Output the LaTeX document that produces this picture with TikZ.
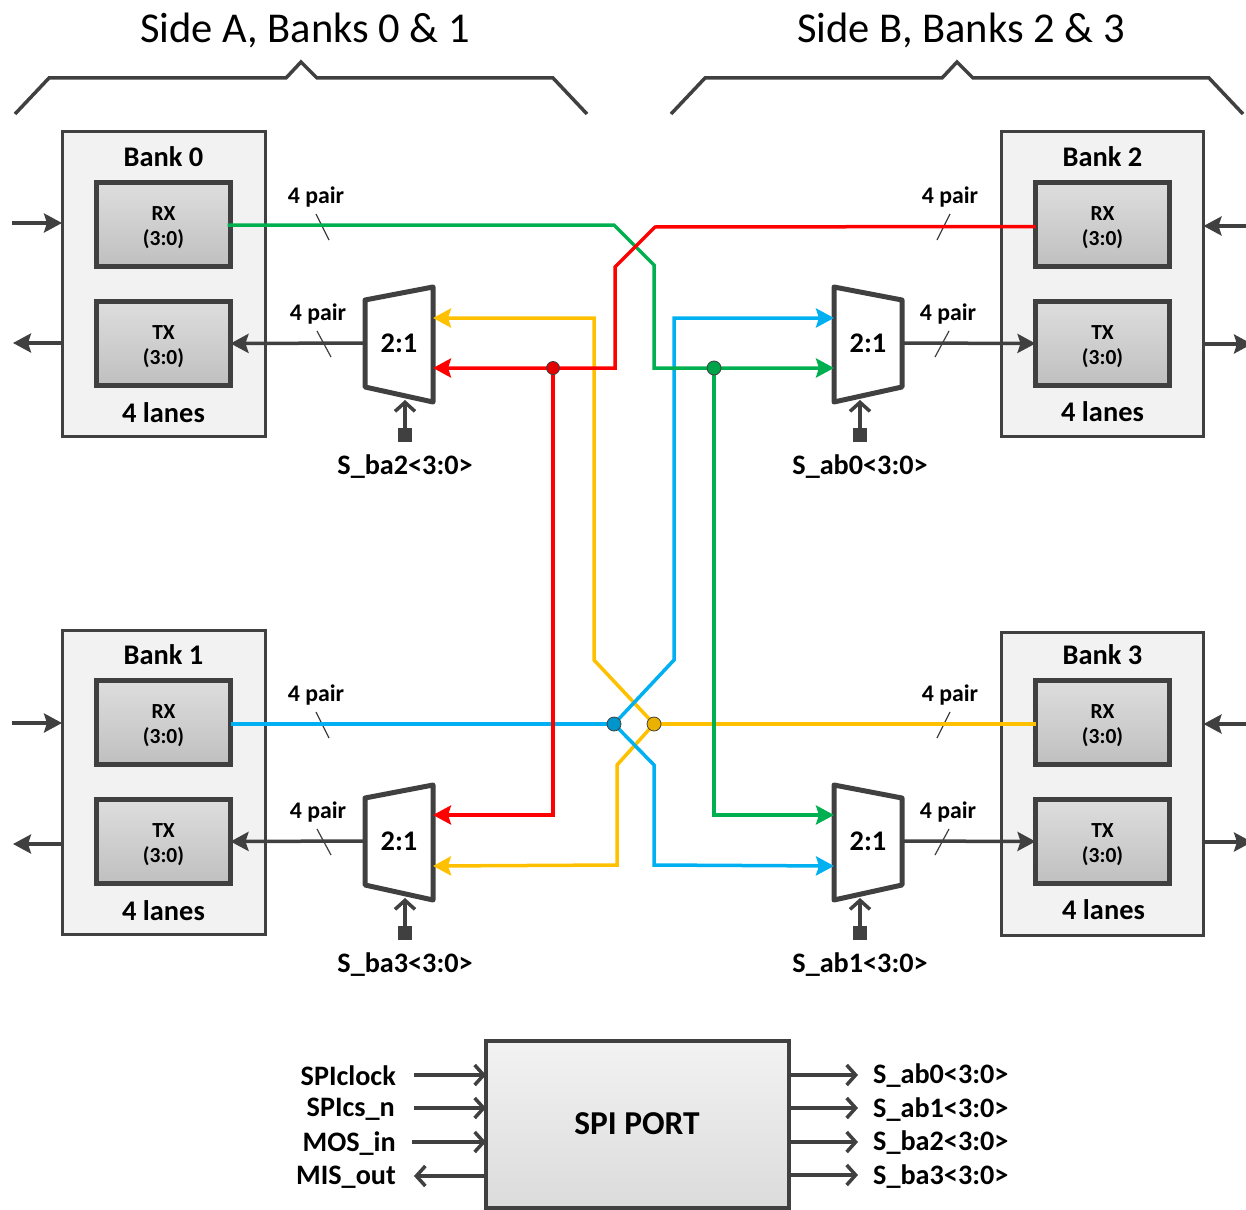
\documentclass[tikz,border=0pt]{standalone}
\usepackage{fontspec}
\setmainfont{Carlito}
\usetikzlibrary{arrows.meta,calc}
\definecolor{dk}{HTML}{404040}
\definecolor{gr}{HTML}{00B050}
\definecolor{rd}{HTML}{FF0000}
\definecolor{yl}{HTML}{FFC000}
\definecolor{bl}{HTML}{00B0F0}
\tikzset{
  bankbox/.style={draw=dk,line width=3pt,fill=black!5,minimum width=203pt,minimum height=304pt,inner sep=0pt,outer sep=0pt},
  lanebox/.style={draw=dk,line width=5pt,top color=black!13,bottom color=black!25,minimum width=134pt,minimum height=84pt,inner sep=0pt,outer sep=0pt,align=center,font=\bfseries\fontsize{21.5}{25.5}\selectfont},
  banktxt/.style={inner sep=0pt,font=\bfseries\fontsize{28.4}{30}\selectfont},
  pairtxt/.style={inner sep=0pt,yshift=-1pt,font=\bfseries\fontsize{23.8}{26}\selectfont},
  seltxt/.style={inner sep=0pt,yshift=-1.5pt,font=\bfseries\fontsize{28.2}{30}\selectfont},
  titletxt/.style={inner sep=0pt,yshift=-1.5pt,font=\fontsize{42.5}{46}\selectfont},
  solid tip/.style={-{Stealth[length=18pt,width=19pt,inset=3pt]}},
  wire/.style={line width=3.5pt,line join=miter,solid tip},
  plain wire/.style={line width=3.5pt,line join=miter},
  outer/.style={line width=3.5pt,draw=dk,solid tip},
  barb/.style={line width=3.5pt,draw=dk,-{Straight Barb[length=9pt,width=20pt]}},
  muxshape/.style={draw=dk,line width=5pt,line join=round,fill=white},
  slashmark/.style={line width=1.2pt,draw=dk},
  brace/.style={line width=3.5pt,draw=dk,line join=miter},
  seldot/.style={fill=dk,draw=none,minimum size=14pt,inner sep=0pt},
  jdot/.style={circle,draw=dk,line width=0.8pt,minimum size=14pt,inner sep=0pt},
}
\newcommand{\lanetext}[1]{\rule{0pt}{20pt}#1\\(3:0)}
\newcommand{\muxblock}[4]{%
  \begin{scope}[shift={(#2,#3)},xscale=#4]
    \draw[muxshape] (-34,-43) -- (34,-56) -- (34,59) -- (-34,44) -- cycle;
    \coordinate (#1-out) at (-34,0);
    \coordinate (#1-a) at (34,-25);
    \coordinate (#1-b) at (34,25);
  \end{scope}
  \node[banktxt] (#1) at (#2,#3) {2:1};
}
\newcommand{\selblock}[4]{%
  \node[seldot] (#1-sq) at (#2,#3+92) {};
  \coordinate (#1-tip) at (#2,#3+57);
  \draw[barb] (#1-sq.north) -- (#1-tip);
  \node[seltxt] (#1-lab) at (#2,#3+122) {#4};
}
\newcommand{\slashlab}[6]{%
  \node[pairtxt] (#1) at (#2,#3) {4 pair};
  \draw[slashmark] ($(#2,#3)+(#4,#5)$) -- ($(#2,#3)+(#4,#5)+(#6,26)$);
}
\begin{document}
\begin{tikzpicture}[x=1pt,y=-1pt]
\useasboundingbox (0,0) rectangle (1246,1209);
\clip (0,0) rectangle (1246,1209);

% titles and braces
\node[titletxt] (ta) at (305,29) {Side A, Banks 0 \& 1};
\node[titletxt] (tb) at (961,29) {Side B, Banks 2 \& 3};
\draw[brace] (15,114) -- (49,78) -- (286,78) -- (301,62) -- (317,78) -- (553,78) -- (587,114);
\draw[brace] (671,114) -- (705,78) -- (942,78) -- (957,62) -- (973,78) -- (1209,78) -- (1243,114);

% bank boxes
\node[bankbox] (b0) at (163.5,284) {};
\node[bankbox] (b1) at (163.5,782) {};
\node[bankbox,minimum width=202pt] (b2) at (1102.5,284) {};
\node[bankbox,minimum width=202pt,minimum height=303pt] (b3) at (1102.5,783.5) {};

\node[banktxt] (b0t) at (163.5,157) {Bank 0};
\node[banktxt] (b1t) at (163.5,655) {Bank 1};
\node[banktxt] (b2t) at (1102.5,157) {Bank 2};
\node[banktxt] (b3t) at (1102.5,655) {Bank 3};
\node[banktxt] (b0l) at (163.5,413) {4 lanes};
\node[banktxt] (b1l) at (163.5,911) {4 lanes};
\node[banktxt] (b2l) at (1102.5,412) {4 lanes};
\node[banktxt] (b3l) at (1103.5,910) {4 lanes};

\node[lanebox] (rx0) at (163.5,224.5) {\lanetext{RX}};
\node[lanebox] (tx0) at (163.5,343.5) {\lanetext{TX}};
\node[lanebox] (rx1) at (163.5,722.5) {\lanetext{RX}};
\node[lanebox] (tx1) at (163.5,841.5) {\lanetext{TX}};
\node[lanebox] (rx2) at (1102.5,224.5) {\lanetext{RX}};
\node[lanebox] (tx2) at (1102.5,343.5) {\lanetext{TX}};
\node[lanebox] (rx3) at (1102.5,722.5) {\lanetext{RX}};
\node[lanebox] (tx3) at (1102.5,841.5) {\lanetext{TX}};

% muxes
\muxblock{ma}{399}{343}{1}
\muxblock{mb}{868}{343}{-1}
\muxblock{mc}{399}{841}{1}
\muxblock{md}{868}{841}{-1}

\draw[outer] (ma-out) -- (tx0.east);
\draw[outer] (mb-out) -- (tx2.west);
\draw[outer] (mc-out) -- (tx1.east);
\draw[outer] (md-out) -- (tx3.west);

% select inputs
\selblock{sa}{405}{343}{S\_ba2<3:0>}
\selblock{sb}{860}{343}{S\_ab0<3:0>}
\selblock{sc}{405}{841}{S\_ba3<3:0>}
\selblock{sd}{860}{841}{S\_ab1<3:0>}

% pair labels
\slashlab{p0}{316}{196}{0}{18}{13}
\slashlab{p1}{318}{313}{-1}{18}{14}
\slashlab{p2}{950}{196}{0}{18}{-13}
\slashlab{p3}{948}{313}{1}{18}{-14}
\slashlab{p4}{316}{694}{0}{18}{13}
\slashlab{p5}{318}{811}{-1}{18}{14}
\slashlab{p6}{950}{694}{0}{18}{-13}
\slashlab{p7}{948}{811}{1}{18}{-14}

% outer arrows
\coordinate (i0) at (12,223); \coordinate (o0) at (13,343);
\coordinate (i1) at (12,723); \coordinate (o1) at (13,844);
\coordinate (i2) at (1248,226); \coordinate (o2) at (1252,344);
\coordinate (i3) at (1248,724); \coordinate (o3) at (1252,842);
\draw[outer] (i0) -- (i0 -| b0.west);
\draw[outer] (o0 -| b0.west) -- (o0);
\draw[outer] (i1) -- (i1 -| b1.west);
\draw[outer] (o1 -| b1.west) -- (o1);
\draw[outer] (i2) -- (i2 -| b2.east);
\draw[outer] (o2 -| b2.east) -- (o2);
\draw[outer] (i3) -- (i3 -| b3.east);
\draw[outer] (o3 -| b3.east) -- (o3);

% coloured wires
\coordinate (jr) at (553,368);
\coordinate (jg) at (714,368);
\coordinate (jb) at (614,724);
\coordinate (jy) at (654,724);

\draw[wire,draw=yl] (jy) -- (594,660) -- (594,318) -- (ma-a);
\draw[wire,draw=bl] (jb) -- (674,660) -- (674,318) -- (mb-a);
\draw[wire,draw=yl] (jy) -- (617,765) -- (617,865) -- (mc-b);
\draw[wire,draw=bl] (jb) -- (654,765) -- (654,865) -- (md-b);
\draw[plain wire,draw=yl] (rx3.west |- jy) -- (jy);
\draw[plain wire,draw=bl] (rx1.east |- jb) -- (jb);
\draw[wire,draw=rd] (jr) -- (553,815) -- (mc-a |- 0,815);
\draw[wire,draw=gr] (jg) -- (714,815) -- (md-a |- 0,815);
\draw[wire,draw=gr] ([xshift=-3pt,yshift=-0.5pt]rx0.east) -- (614,225) -- (654,265) -- (654,368) -- (mb-b);
\draw[wire,draw=rd] ([yshift=-2pt]rx2.west) -- (655,227) -- (615,267) -- (615,368) -- (ma-b);

\node[jdot,fill=rd!90!black,minimum size=13pt] (dr) at (jr) {};
\node[jdot,fill=gr!92!black] (dg) at (jg) {};
\node[jdot,fill=bl!85!black] (db) at (jb) {};
\node[jdot,fill=yl!92!black] (dy) at (jy) {};

% SPI port
\node[draw=dk,line width=4pt,top color=black!5,bottom color=black!14,minimum width=303pt,minimum height=167pt,inner sep=0pt,outer sep=0pt] (spi) at (637.5,1124.5) {};
\node[inner sep=0pt,font=\bfseries\fontsize{33.4}{36}\selectfont] (spit) at (637,1124) {SPI PORT};

\node[seltxt,anchor=east] (l1) at (396,1074) {SPIclock};
\node[seltxt,anchor=east] (l2) at (395,1108) {SPIcs\_n};
\node[seltxt,anchor=east] (l3) at (396,1142) {MOS\_in};
\node[seltxt,anchor=east] (l4) at (396,1176) {MIS\_out};
\node[seltxt,anchor=west] (r1) at (873,1074) {S\_ab0<3:0>};
\node[seltxt,anchor=west] (r2) at (873,1108) {S\_ab1<3:0>};
\node[seltxt,anchor=west] (r3) at (873,1141) {S\_ba2<3:0>};
\node[seltxt,anchor=west] (r4) at (873,1175) {S\_ba3<3:0>};

\draw[barb] (414,1075) -- (spi.west |- 0,1075);
\draw[barb] (414,1108) -- (spi.west |- 0,1108);
\draw[barb] (412,1142) -- (spi.west |- 0,1142);
\draw[barb] (spi.west |- 0,1176) -- (414,1176);
\draw[barb] (spi.east |- 0,1075) -- (858,1075);
\draw[barb] (spi.east |- 0,1108) -- (858,1108);
\draw[barb] (spi.east |- 0,1142) -- (858,1142);
\draw[barb] (spi.east |- 0,1175) -- (858,1175);
\end{tikzpicture}
\end{document}
